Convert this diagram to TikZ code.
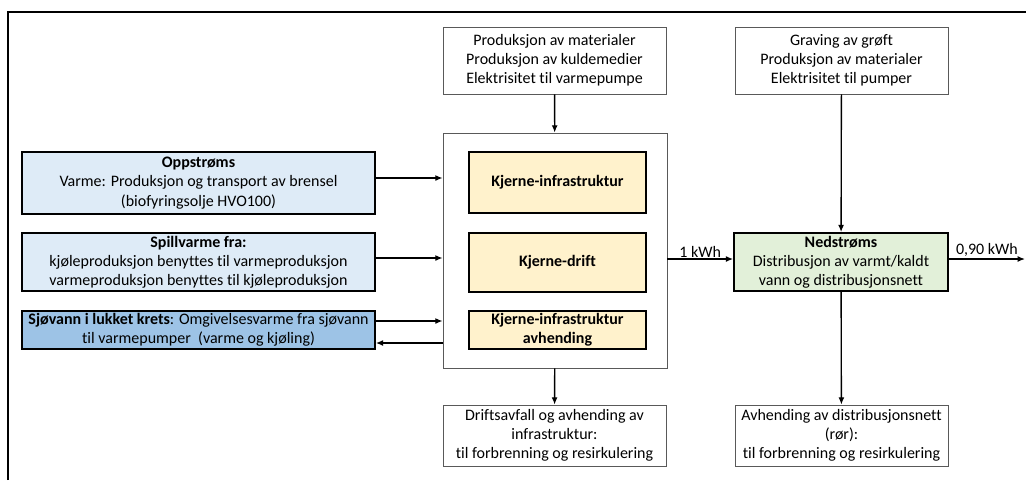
\documentclass[tikz,border=0pt]{standalone}
\usepackage{fontspec}
\setmainfont{Carlito}[Ligatures=NoCommon]
\usetikzlibrary{arrows.meta,positioning,calc}

\definecolor{upblue}{HTML}{DEEBF7}
\definecolor{seablue}{HTML}{9DC3E6}
\definecolor{coreyellow}{HTML}{FFF2CC}
\definecolor{downgreen}{HTML}{E2F0D9}

\begin{document}
\begin{tikzpicture}[x=0.75pt, y=-0.75pt,
    every node/.style={font=\fontsize{12}{14.4}\selectfont, align=center, inner sep=0pt},
    plainbox/.style={draw=black!65, line width=0.6pt, fill=white},
    colbox/.style={draw=black, line width=1.3pt},
    flow/.style={-{Latex[length=5.5pt,width=4.5pt]}, line width=1pt}]
    \useasboundingbox (0,0) rectangle (1026,480);
    \draw[line width=0.8pt] (8,480) -- (8,12) -- (1026,12);

    % boxes above and below
    \node[plainbox, minimum width={223*0.75pt}, minimum height={67*0.75pt}] (mat) at (554.5,60.5)
      {Produksjon av materialer\\Produksjon av kuldemedier\\Elektrisitet til varmepumpe};
    \node[plainbox, minimum width={213*0.75pt}, minimum height={67*0.75pt}] (grav) at (841.5,60.5)
      {Graving av grøft\\Produksjon av materialer\\Elektrisitet til pumper};
    \node[plainbox, minimum width={223*0.75pt}, minimum height={61*0.75pt}] (waste) at (554.5,435.5)
      {Driftsavfall og avhending av\\infrastruktur:\\til forbrenning og resirkulering};
    \node[plainbox, minimum width={213*0.75pt}, minimum height={61*0.75pt}] (pipes) at (841.5,435.5)
      {Avhending av distribusjonsnett\\(rør):\\til forbrenning og resirkulering};

    % core
    \node[plainbox, minimum width={224*0.75pt}, minimum height={235*0.75pt}] (core) at (555,250.5) {};
    \node[colbox, fill=coreyellow, minimum width={177*0.75pt}, minimum height={61*0.75pt}] (infra) at (557.5,182.5)
      {\bfseries Kjerne-infrastruktur};
    \node[colbox, fill=coreyellow, minimum width={177*0.75pt}, minimum height={59*0.75pt}] (drift) at (557.5,262.5)
      {\bfseries Kjerne-drift};
    \node[colbox, fill=coreyellow, minimum width={177*0.75pt}, minimum height={38*0.75pt},
      font=\fontsize{12}{14}\selectfont] (avh) at (557.5,330)
      {\bfseries Kjerne-infrastruktur\\\bfseries avhending};

    % upstream
    \node[colbox, fill=upblue, minimum width={353*0.75pt}, minimum height={62*0.75pt}] (opp) at (198.5,183)
      {\textbf{Oppstrøms}\\Varme: Produksjon og transport av brensel\\(biofyringsolje HVO100)};
    \node[colbox, fill=upblue, minimum width={353*0.75pt}, minimum height={58*0.75pt}] (spill) at (198.5,262)
      {\textbf{Spillvarme fra:}\\kjøleproduksjon benyttes til varmeproduksjon\\varmeproduksjon benyttes til kjøleproduksjon};
    \node[colbox, fill=seablue, minimum width={353*0.75pt}, minimum height={38*0.75pt},
      font=\fontsize{12}{14}\selectfont] (sea) at (198.5,330)
      {\textbf{Sjøvann i lukket krets}: Omgivelsesvarme fra sjøvann\\til varmepumper\ \ (varme og kjøling)};

    % downstream
    \node[colbox, fill=downgreen, minimum width={214*0.75pt}, minimum height={58*0.75pt}] (ned) at (841,262)
      {\textbf{Nedstrøms}\\Distribusjon av varmt/kaldt\\vann og distribusjonsnett};
    \coordinate (out) at (1025,259);

    \draw[flow] (mat) -- (core);
    \draw[flow] (grav) -- (ned);
    \draw[flow] (core) -- (waste);
    \draw[flow] (ned) -- (pipes);
    \draw[flow] ([yshift=3.75pt]opp.east) -- ([yshift=3.75pt]opp.east -| core.west);
    \draw[flow] ([yshift=3pt]spill.east) -- ([yshift=3pt]spill.east -| core.west);
    \draw[flow] ([yshift=6.75pt]sea.east) -- ([yshift=6.75pt]sea.east -| core.west);
    \draw[flow] ([yshift=-9.75pt]sea.east -| core.west) -- ([yshift=-9.75pt]sea.east);
    \draw[flow] ([yshift=2.25pt]core.east |- ned.west) -- node[above=1pt] {1 kWh} ([yshift=2.25pt]ned.west);
    \draw[flow] (ned.east |- out) -- node[above=1pt] {0,90 kWh} (out);
\end{tikzpicture}
\end{document}
